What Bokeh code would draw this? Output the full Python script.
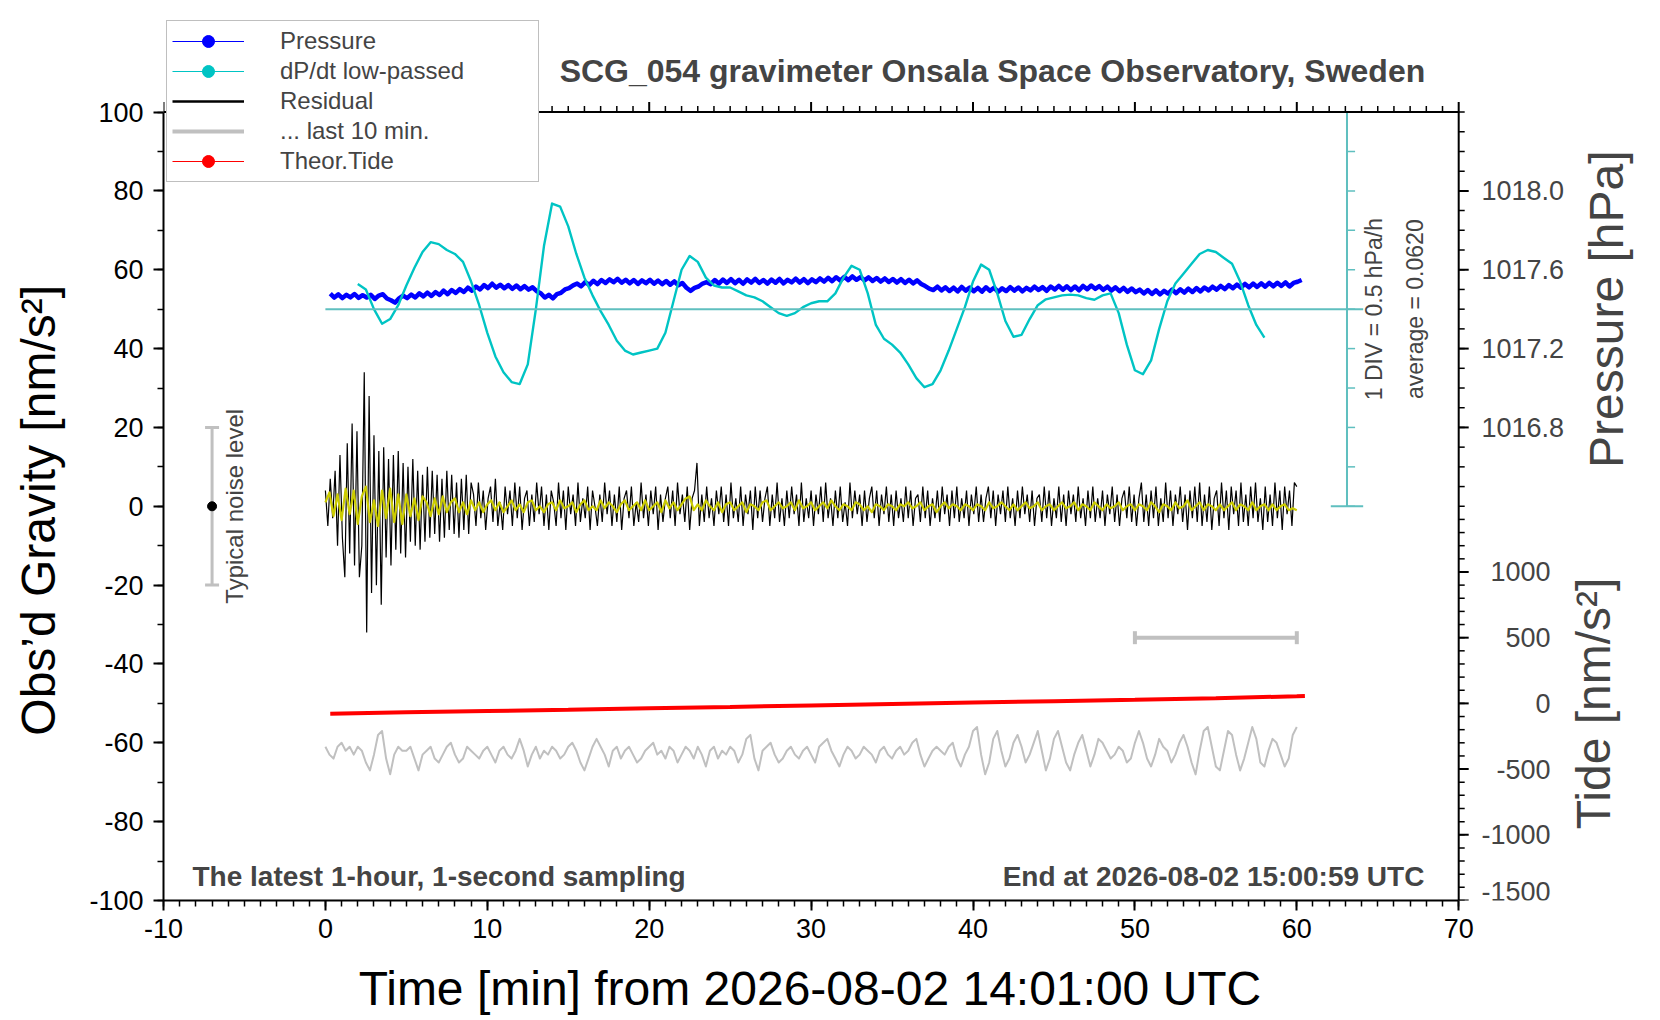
import numpy as np
from bokeh.plotting import figure
from bokeh.models import (ColumnDataSource, Range1d, SingleIntervalTicker,
                          Label, Legend, LegendItem, Whisker, TeeHead)
from bokeh.embed import file_html
from bokeh.resources import INLINE

FONT = "Liberation Sans"

# ---- values ----
# residual gravity [nm/s^2], one value every 0.15 min from 0
residual_step = 0.15
residual = [
    4, -5, 7, -3, 9, -10, 13, -8, -18, 16, -12, 21, -15, 19, -18, -10, 34, -32, 28, -22,
    18, -20, 14, -25, 15, -13, 12, -15, 13, -11, 14, -12, 11, -13, 10, -9, 12, -10, 9, -11,
    8, -9, 10, -8, 9, -7, 8, -9, 7, -8, 9, -6, 8, -7, 6, -8, 7, -6, 8, -7,
    6, 3, -5, 6, -3, 4, -6, 2, 5, -4, 7, -5, 1, -6, 5, -2, 4, -5, 6, -3,
    5, -6, 2, 4, -5, 3, -4, 6, -2, 5, -5, 3, -6, 4, 1, -5, 6, -3, 4, -6,
    5, -2, 3, -5, 6, -4, 2, -3, 5, -6, 4, 0, -5, 3, -4, 6, -2, 4, -5, 3,
    -4, 5, -6, 2, 4, -3, 5, -5, 1, -4, 6, -3, 3, -5, 4, -2, 5, -6, 3, -4,
    2, 5, -3, 4, -5, 6, -2, 3, -4, 5, -6, 2, 4, 11, -5, 3, -4, 5, -3, 2,
    -5, 4, -2, 5, -4, 3, -5, 6, -3, 2, -4, 5, -5, 3, -2, 4, -6, 5, -3, 4,
    -4, 2, 5, -5, 3, -3, 6, -4, 2, -5, 4, -3, 5, -2, 3, -5, 6, -4, 2, -3,
    4, -5, 3, -2, 5, -4, 6, -3, 2, -5, 4, -3, 5, -4, 1, -5, 6, -3, 4, -2,
    3, -5, 4, -4, 2, 5, -3, 4, -5, 3, -2, 5, -4, 3, -5, 4, -3, 2, -4, 5,
    -3, 4, -5, 2, 3, -4, 5, -3, 4, -5, 2, -3, 4, -4, 5, -2, 3, -5, 4, -3,
    5, -4, 2, -3, 4, -5, 3, -2, 5, -4, 3, -4, 2, 5, -3, 4, -5, 3, -2, 4,
    -4, 5, -3, 2, -5, 4, -3, 5, -2, 3, -4, 4, -5, 2, 3, -4, 5, -3, 4, -5,
    2, -3, 5, -4, 3, -5, 4, -2, 3, -4, 5, -3, 2, -5, 4, -3, 5, -4, 2, -3,
    4, -5, 3, -2, 5, -4, 3, -5, 2, 4, -3, 5, -4, 3, -5, 2, 6, -4, 3, -5,
    4, -3, 5, -5, 2, -4, 6, -3, 4, -5, 3, -2, 5, -4, 3, -6, 4, -3, 5, -4,
    6, -5, 3, -4, 5, -6, 2, 4, -5, 6, -3, 4, -6, 5, -2, 4, -5, 6, -4, 3,
    -5, 5, -3, 6, -4, 2, -6, 5, -4, 3, -5, 6, -3, 4, -6, 5, -2, 4, -5, 6,
    5,
]

# low-passed residual [nm/s^2], every 0.25 min from 0
lowpass_step = 0.25
residual_lp = [
    1.0, 3.5, -2.5, 3.0, -3.5, 4.5, -2.0, 4.0, -4.5, 2.5, 5.0, -4.0, 1.5, -5.0, 4.0, -3.0, 4.5, -4.0, 3.0, -4.5,
    3.0, -2.5, 2.0, -3.5, 2.5, 1.0, -2.5, 2.0, -2.0, 2.5, -1.5, 1.0, 2.0, -1.5, 1.0, -2.0, 1.5, -1.0, 1.0, -1.5,
    0.5, 1.5, -1.0, 1.0, -1.5, 0.0, 1.5, -1.0, 0.5, -1.5, 1.0, 1.5, -1.0, 0.0, -1.5, 0.5, 1.0, -1.0, 1.5, -0.5,
    0.0, 1.0, -1.5, 0.5, 1.5, -1.0, 0.0, -1.0, 1.5, -0.5, 1.0, 0.0, -1.5, 0.5, 1.5, -1.0, 0.0, 1.0, -1.0, 1.5,
    -1.0, 0.0, 1.0, -1.5, 1.5, -0.5, 1.0, -1.0, 0.5, 2.0, 2.5, -1.0, 0.5, -1.0, 1.5, 0.0, -1.0, 1.0, -1.5, 0.5,
    1.0, -1.0, 0.0, 1.0, -1.5, 0.5, 0.0, -1.0, 1.0, 1.5, -1.0, 0.0, 1.0, -0.5, 0.0, 1.0, -1.0, 1.5, -0.5, 0.0,
    1.0, -1.0, 0.0, 1.0, -0.5, 1.5, 0.0, -1.0, 0.5, 0.0, -1.0, 1.0, 0.5, -1.0, 0.0, -1.5, 0.5, 0.0, -1.0, 0.5,
    0.0, -1.0, 0.5, 0.0, 1.0, -0.5, 0.0, 1.0, -1.0, 0.0, 0.5, -1.5, 0.0, 1.0, -0.5, 0.5, 0.0, -1.0, 0.5, 0.0,
    -1.0, 0.5, 0.0, -1.0, 1.0, -0.5, 0.0, 1.0, 0.0, -1.0, 0.5, -1.0, 0.0, 1.0, -0.5, 0.0, 1.0, -1.0, 0.0, 0.5,
    -1.0, 0.0, 1.0, -0.5, 0.0, 1.0, -1.0, 0.5, 0.0, -1.0, 1.0, 0.0, -1.0, 0.5, -0.5, 0.0, 1.0, -1.0, 0.0, 0.5,
    -1.0, 0.5, 0.0, -1.0, 1.0, 0.0, -1.5, 0.5, 0.0, -1.0, 1.0, -0.5, 0.0, 1.5, -1.0, 0.0, 1.0, -1.0, 0.5, 0.0,
    -1.0, 0.5, -1.0, 0.0, 1.0, -1.0, 0.5, 0.0, -1.0, 1.0, -1.0, 0.0, 0.5, -1.0, 0.5, -1.0, 0.0, 0.5, -1.0, -0.5,
    -1.0,
]

# residual of the last 10 minutes [nm/s^2], stretched over the full hour
last10_start, last10_end = 50.0, 60.0
last10_offset = -60.0
last10 = [
    -1, -3, -4, -1, 0, -2, -1, -3, -1, -2, -5, -7, -3, 2, 3, -4, -8, -3, -1, -2,
    -2, -1, -4, -7, -3, -2, -1, -4, -5, -3, -1, 0, -3, -5, -4, -1, -2, -3, -4, -2,
    -1, -3, -5, -2, -1, -3, -4, -2, 1, -2, -6, -3, -1, -4, -2, -3, -1, -2, -4, -3,
    -1, 0, -2, -5, -7, -4, -1, 1, -1, -3, -6, -2, -1, -4, -2, -1, -3, -5, -4, -2,
    -1, 0, -3, -2, -4, -1, -2, -5, -3, -1, -2, -4, -1, -3, -6, -2, -1, -4, -2, -3,
    -1, -2, -5, -3, 1, 2, -4, -7, -2, -1, 0, -3, -5, -4, -2, -1, -3, -4, -2, -1,
    -3, -5, -1, 0, 1, -2, -4, -6, -3, -1, -2, -4, -3, -1, -2, -3, -5, -2, -1, -3,
    -4, -2, -1, -3, -2, 0, 1, -3, -6, -4, -2, -1, -2, -3, -1, 0, -4, -6, -3, -1,
    3, 4, -3, -8, -5, 1, 3, -2, -6, -4, 0, 2, -1, -5, -3, 0, 3, -2, -7, -4,
    1, 3, -1, -5, -7, -3, 0, 2, -2, -6, -3, 1, 0, -2, -4, -3, -1, -2, -5, -4,
    0, 3, 0, -4, -6, -3, 1, -1, -2, -5, -3, 0, 2, -1, -5, -8, -2, 3, 4, -1,
    -6, -7, -2, 3, 2, -3, -7, -4, 0, 4, 1, -5, -6, -2, 1, 0, -3, -6, -4, 2,
    4,
]

# air pressure [hPa], every 0.25 min from 0.3 min
pressure_t0, pressure_step = 0.3, 0.25
pressure = [
    1017.479, 1017.459, 1017.475, 1017.456, 1017.473, 1017.460, 1017.477, 1017.457, 1017.471, 1017.459,
    1017.473, 1017.452, 1017.469, 1017.476, 1017.454, 1017.445, 1017.433, 1017.455, 1017.469, 1017.456,
    1017.474, 1017.459, 1017.480, 1017.465, 1017.484, 1017.467, 1017.487, 1017.472, 1017.494, 1017.476,
    1017.497, 1017.482, 1017.502, 1017.487, 1017.509, 1017.494, 1017.515, 1017.500, 1017.522, 1017.507,
    1017.529, 1017.509, 1017.524, 1017.506, 1017.522, 1017.503, 1017.520, 1017.501, 1017.517, 1017.499,
    1017.511, 1017.491, 1017.481, 1017.459, 1017.473, 1017.455, 1017.476, 1017.483, 1017.500, 1017.507,
    1017.521, 1017.530, 1017.516, 1017.537, 1017.523, 1017.544, 1017.527, 1017.548, 1017.533, 1017.551,
    1017.537, 1017.554, 1017.534, 1017.549, 1017.531, 1017.548, 1017.528, 1017.546, 1017.532, 1017.549,
    1017.529, 1017.545, 1017.527, 1017.543, 1017.524, 1017.541, 1017.521, 1017.533, 1017.509, 1017.493,
    1017.508, 1017.515, 1017.530, 1017.537, 1017.527, 1017.548, 1017.530, 1017.550, 1017.533, 1017.552,
    1017.532, 1017.549, 1017.529, 1017.551, 1017.535, 1017.554, 1017.533, 1017.548, 1017.530, 1017.550,
    1017.534, 1017.553, 1017.531, 1017.549, 1017.536, 1017.555, 1017.535, 1017.552, 1017.532, 1017.551,
    1017.537, 1017.556, 1017.540, 1017.559, 1017.542, 1017.562, 1017.545, 1017.564, 1017.547, 1017.566,
    1017.549, 1017.563, 1017.546, 1017.561, 1017.543, 1017.558, 1017.540, 1017.556, 1017.538, 1017.553,
    1017.535, 1017.552, 1017.533, 1017.549, 1017.531, 1017.546, 1017.528, 1017.517, 1017.504, 1017.497,
    1017.514, 1017.495, 1017.511, 1017.492, 1017.509, 1017.490, 1017.513, 1017.494, 1017.510, 1017.491,
    1017.508, 1017.489, 1017.511, 1017.493, 1017.509, 1017.488, 1017.506, 1017.492, 1017.512, 1017.494,
    1017.510, 1017.490, 1017.508, 1017.495, 1017.514, 1017.497, 1017.512, 1017.493, 1017.515, 1017.500,
    1017.518, 1017.499, 1017.516, 1017.497, 1017.515, 1017.496, 1017.518, 1017.501, 1017.520, 1017.503,
    1017.517, 1017.498, 1017.514, 1017.494, 1017.511, 1017.491, 1017.508, 1017.488, 1017.505, 1017.486,
    1017.499, 1017.480, 1017.497, 1017.477, 1017.495, 1017.475, 1017.493, 1017.479, 1017.499, 1017.481,
    1017.501, 1017.484, 1017.504, 1017.487, 1017.507, 1017.490, 1017.510, 1017.495, 1017.514, 1017.499,
    1017.518, 1017.502, 1017.522, 1017.506, 1017.525, 1017.509, 1017.528, 1017.511, 1017.530, 1017.513,
    1017.531, 1017.514, 1017.533, 1017.516, 1017.534, 1017.518, 1017.536, 1017.515, 1017.533, 1017.539,
    1017.548,
]

# low-passed dP/dt [hPa/h], every 0.5 min from 2.0 min
dpdt_t0, dpdt_step = 2.0, 0.5
dpdt = [
    0.382, 0.312, 0.062, -0.123, -0.063, 0.112, 0.362, 0.587, 0.787, 0.912,
    0.887, 0.812, 0.762, 0.662, 0.412, 0.112, -0.238, -0.538, -0.738, -0.863,
    -0.888, -0.638, 0.062, 0.862, 1.402, 1.362, 1.112, 0.762, 0.462, 0.237,
    0.037, -0.138, -0.338, -0.463, -0.513, -0.488, -0.463, -0.438, -0.238, 0.162,
    0.562, 0.737, 0.662, 0.462, 0.362, 0.337, 0.337, 0.287, 0.237, 0.212,
    0.162, 0.087, 0.012, -0.023, 0.012, 0.087, 0.137, 0.162, 0.162, 0.262,
    0.462, 0.612, 0.562, 0.262, -0.138, -0.313, -0.388, -0.488, -0.638, -0.813,
    -0.928, -0.888, -0.713, -0.463, -0.188, 0.087, 0.412, 0.627, 0.562, 0.262,
    -0.088, -0.288, -0.263, -0.063, 0.112, 0.187, 0.212, 0.237, 0.247, 0.237,
    0.202, 0.182, 0.237, 0.262, 0.012, -0.388, -0.713, -0.763, -0.588, -0.188,
    0.162, 0.387, 0.512, 0.637, 0.762, 0.812, 0.787, 0.712, 0.637, 0.412,
    0.112, -0.138, -0.298,
]
dpdt_average = 0.0620
div_size = 0.5  # hPa/h per division

# theoretical tide [nm/s^2]
tide_t = [0.3, 5, 10, 15, 20, 25, 30, 35, 40, 45, 50, 55, 60, 60.5]
tide = [-78, -68, -58, -48, -37, -27, -16, -5, 6, 17, 28, 40, 54, 56]

noise_level = 20  # nm/s^2

# tick labels
x_ticks = list(range(-10, 71, 10))
g_ticks = list(range(-100, 101, 20))
pressure_labels = [1016.8, 1017.2, 1017.6, 1018.0]
pressure_minor = [round(1016.4 + 0.1 * i, 1) for i in range(21)]
tide_labels = [-1500, -1000, -500, 0, 500, 1000]
tide_minor = list(range(-1500, 1500, 100))

# ---- geometry and scale relations ----
W, H = 1656, 1018
B_LEFT, B_TOP, B_BOTTOM = 163, 13, 118
X_LO, X_HI = -10, 70
PX_PER_X = 16.19
X_END = X_LO + (W - B_LEFT) / PX_PER_X        # frame runs to the right edge for the right-hand scales
G_LO, G_HI, G_TOP = -100, 100, 125            # frame reaches above the box for header/legend
PX_PER_G = (H - B_TOP - B_BOTTOM) / (G_TOP - G_LO)
P_REF_G, P_REF, P_PER_G = 80, 1018.0, 0.02     # hPa per plotted unit
T_ZERO_G, T_PER_G = -50, 30                    # tide nm/s^2 per plotted unit
D_ZERO_G, D_PER_G = 50, div_size / 10          # dP/dt centre line, 10 units per DIV
L_ZERO_G = last10_offset

BLUE, CYAN, TEAL = "#0000ff", "#00c4c4", "#5fbfbf"
GREY, RED, YELLOW = "#c0c0c0", "#ff0000", "#cccc00"
MAJOR_TICK, MINOR_TICK = 10, 6

p = figure(width=W, height=H, x_range=Range1d(X_LO, X_END), y_range=Range1d(G_LO, G_TOP),
           output_backend="svg", toolbar_location=None,
           min_border_left=B_LEFT, min_border_right=0,
           min_border_top=B_TOP, min_border_bottom=B_BOTTOM)

def to_pressure(g):
    return P_REF + (g - P_REF_G) * P_PER_G

def to_tide(g):
    return (g - T_ZERO_G) * T_PER_G

def to_dpdt(g):
    return dpdt_average + (g - D_ZERO_G) * D_PER_G

p.extra_y_ranges = {
    "pressure": Range1d(to_pressure(G_LO), to_pressure(G_TOP)),
    "tide": Range1d(to_tide(G_LO), to_tide(G_TOP)),
    "dpdt": Range1d(to_dpdt(G_LO), to_dpdt(G_TOP)),
    "last10": Range1d(G_LO - L_ZERO_G, G_TOP - L_ZERO_G),
}
span = last10_end - last10_start
p.extra_x_ranges = {"last10x": Range1d(last10_start + X_LO * span / 60, last10_start + X_END * span / 60)}

p.xgrid.visible = False
p.ygrid.visible = False
p.outline_line_color = None
p.background_fill_color = "white"
p.border_fill_color = "white"

# ---- curves ----
t_res = np.arange(len(residual)) * residual_step
t_lp = np.arange(len(residual_lp)) * lowpass_step
t_l10 = np.linspace(last10_start, last10_end, len(last10))
t_p = pressure_t0 + np.arange(len(pressure)) * pressure_step
t_d = dpdt_t0 + np.arange(len(dpdt)) * dpdt_step

p.line(t_l10, last10, x_range_name="last10x", y_range_name="last10", color=GREY, line_width=2,
       line_join="round")
p.line(tide_t, tide, y_range_name="tide", color=RED, line_width=4)
p.line(t_res, residual, color="black", line_width=1.2)
p.line(t_lp, residual_lp, color=YELLOW, line_width=2.2, line_join="round")
p.line(t_p, pressure, y_range_name="pressure", color=BLUE, line_width=4.5, line_join="round")
p.line(t_d, dpdt, y_range_name="dpdt", color=CYAN, line_width=2.4, line_join="round")

# dP/dt division scale and average line
div_x = 63.1
divs = dpdt_average + np.arange(-5, 6) * div_size
p.segment(x0=0, y0=dpdt_average, x1=div_x + 1, y1=dpdt_average, y_range_name="dpdt",
          color=TEAL, line_width=2)
p.segment(x0=div_x, y0=divs.min(), x1=div_x, y1=divs.max(), y_range_name="dpdt",
          color=TEAL, line_width=2)
p.segment(x0=div_x, y0=divs, x1=div_x + 0.5, y1=divs, y_range_name="dpdt", color=TEAL, line_width=1.5)
p.segment(x0=div_x - 1, y0=[divs.min(), divs.max()], x1=div_x + 1, y1=[divs.min(), divs.max()],
          y_range_name="dpdt", color=TEAL, line_width=2)

# typical noise level marker
noise_x = -7
noise_src = ColumnDataSource(dict(x=[noise_x], lower=[-noise_level], upper=[noise_level]))
p.add_layout(Whisker(source=noise_src, base="x", lower="lower", upper="upper", dimension="height",
                     line_color=GREY, line_width=3,
                     upper_head=TeeHead(size=14, line_color=GREY, line_width=3),
                     lower_head=TeeHead(size=14, line_color=GREY, line_width=3)))
p.scatter([noise_x], [0], size=9, color="black")

# bar showing the last 10 minutes
bar_src = ColumnDataSource(dict(y=[500], lower=[last10_start], upper=[last10_end]))
p.add_layout(Whisker(source=bar_src, base="y", lower="lower", upper="upper", dimension="width",
                     y_range_name="tide", line_color=GREY, line_width=4,
                     upper_head=TeeHead(size=13, line_color=GREY, line_width=4),
                     lower_head=TeeHead(size=13, line_color=GREY, line_width=4)))

# ---- library axes: bottom and left ----
def style_axis(ax, standoff=8):
    ax.axis_line_width = 2
    ax.axis_line_color = "black"
    ax.major_tick_line_width = 2
    ax.minor_tick_line_width = 1.5
    ax.major_tick_out = MAJOR_TICK
    ax.major_tick_in = 0
    ax.minor_tick_out = MINOR_TICK
    ax.minor_tick_in = 0
    ax.major_label_text_font = FONT
    ax.major_label_text_font_size = "27px"
    ax.major_label_text_color = "black"
    ax.major_label_standoff = standoff
    ax.axis_label_text_font = FONT
    ax.axis_label_text_font_size = "48px"
    ax.axis_label_text_font_style = "normal"
    ax.axis_label_text_color = "black"

nb = "\u00a0"   # pads shift the centred titles to the box centre

xa = p.xaxis[0]
xa.ticker = SingleIntervalTicker(interval=10, num_minor_ticks=10)
xa.major_label_overrides = {v: str(v) for v in x_ticks}
xa.bounds = (X_LO, X_HI)
style_axis(xa, 8)
xa.axis_label = "Time [min] from 2026-08-02 14:01:00 UTC" + nb * 15
xa.axis_label_standoff = 21

ya = p.yaxis[0]
ya.ticker = SingleIntervalTicker(interval=20, num_minor_ticks=2)
ya.major_label_overrides = {v: str(v) for v in g_ticks}
ya.bounds = (G_LO, G_HI)
style_axis(ya, 10)
ya.axis_label = "Obs’d Gravity [nm/s²]" + nb * 8
ya.axis_label_standoff = 21

# ---- top edge and right-hand pressure / tide scale ----
top_x = np.arange(X_LO, X_HI + 1)
top_major = top_x % 10 == 0
p.segment(x0=X_LO, y0=G_HI, x1=X_HI, y1=G_HI, color="black", line_width=2)
p.segment(x0=top_x, y0=G_HI, x1=top_x,
          y1=G_HI + np.where(top_major, MAJOR_TICK, MINOR_TICK) / PX_PER_G,
          color="black", line_width=np.where(top_major, 2, 1.5))

p.segment(x0=X_HI, y0=G_LO, x1=X_HI, y1=G_HI, color="black", line_width=2)
major_dx, minor_dx = MAJOR_TICK / PX_PER_X, MINOR_TICK / PX_PER_X
p.segment(x0=X_HI, y0=tide_labels, x1=X_HI + major_dx, y1=tide_labels, y_range_name="tide",
          color="black", line_width=2)
p.segment(x0=X_HI, y0=tide_minor, x1=X_HI + minor_dx, y1=tide_minor, y_range_name="tide",
          color="black", line_width=1.5)
p.segment(x0=X_HI, y0=pressure_labels, x1=X_HI + major_dx, y1=pressure_labels,
          y_range_name="pressure", color="black", line_width=2)
p.segment(x0=X_HI, y0=pressure_minor, x1=X_HI + minor_dx, y1=pressure_minor,
          y_range_name="pressure", color="black", line_width=1.5)

def txt(x, y, s, size, angle=0, align="center", bold=False, baseline="middle", **kw):
    p.add_layout(Label(x=x, y=y, text=s, angle=angle, text_align=align, text_baseline=baseline,
                       text_font=FONT, text_font_size=size,
                       text_font_style="bold" if bold else "normal", **kw))

for v in pressure_labels:
    txt(71.41, v, f"{v:.1f}", "27px", align="left", y_range_name="pressure")
for t in tide_labels:
    # the lowest label sits on the frame edge, so it is lifted to stay whole
    txt(75.67, t, str(t), "27px", align="right", y_range_name="tide",
        baseline="bottom" if t == min(tide_labels) else "middle")
txt(79.13, to_pressure(50), "Pressure [hPa]", "48px", angle=np.pi / 2, y_range_name="pressure")
txt(78.3, to_tide(-50), "Tide [nm/s²]", "48px", angle=np.pi / 2, y_range_name="tide")

# ---- other texts ----
txt(41.2, 110.4, "SCG_054 gravimeter Onsala Space Observatory, Sweden", "32px", bold=True)
txt(-5.6, 0, "Typical noise level", "24px", angle=np.pi / 2)
txt(64.77, dpdt_average, "1 DIV = 0.5 hPa/h", "23px", angle=np.pi / 2, y_range_name="dpdt")
txt(67.32, dpdt_average, f"average = {dpdt_average:.4f}", "23px", angle=np.pi / 2, y_range_name="dpdt")
txt(-8.21, -93.9, "The latest 1-hour, 1-second sampling", "28px", align="left", bold=True)
txt(67.88, -93.9, "End at 2026-08-02 15:00:59 UTC", "28px", align="right", bold=True)

# ---- legend ----
def legend_line(color, width):
    return p.line([np.nan], [np.nan], color=color, line_width=width)

def legend_dot(color):
    return p.scatter([np.nan], [np.nan], color=color, size=9)

legend = Legend(items=[
    LegendItem(label="Pressure", renderers=[legend_line(BLUE, 1), legend_dot(BLUE)]),
    LegendItem(label="dP/dt low-passed", renderers=[legend_line(CYAN, 1), legend_dot(CYAN)]),
    LegendItem(label="Residual", renderers=[legend_line("black", 2.5)]),
    LegendItem(label="... last 10 min.", renderers=[legend_line(GREY, 4)]),
    LegendItem(label="Theor.Tide", renderers=[legend_line(RED, 1), legend_dot(RED)]),
], location=(3, 718))
legend.label_text_font = FONT
legend.label_text_font_size = "24px"
legend.border_line_color = "#808080"
legend.border_line_width = 1
legend.background_fill_color = "white"
legend.background_fill_alpha = 1
legend.padding = 5
legend.spacing = 0
legend.margin = 0
legend.glyph_width = 72
legend.glyph_height = 30
legend.label_height = 30
legend.label_standoff = 36
legend.label_width = 253
p.add_layout(legend)

open("out.html", "w").write(file_html(p, INLINE))
